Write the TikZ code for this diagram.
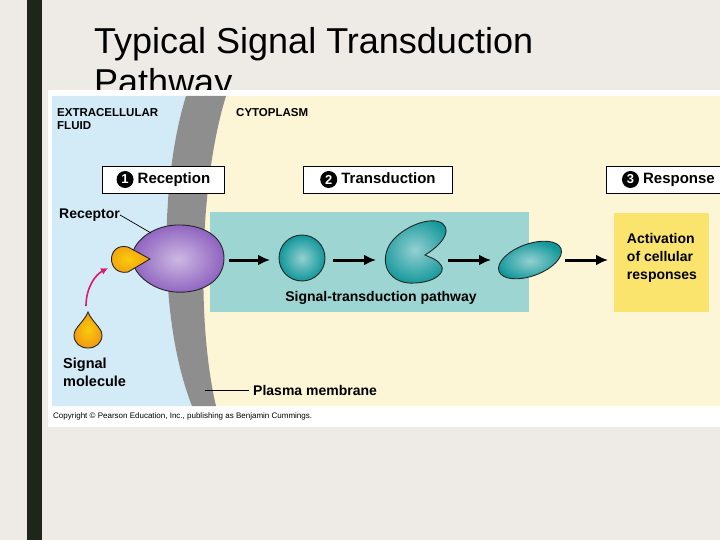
\documentclass[tikz,border=0pt]{standalone}
\usepackage{fontspec}
\setmainfont{Liberation Sans}
\usetikzlibrary{arrows.meta}
\definecolor{bgc}{HTML}{EEEBE6}
\definecolor{barc}{HTML}{1E261C}
\definecolor{fluid}{HTML}{D3EBF7}
\definecolor{cyto}{HTML}{FDF6D6}
\definecolor{memb}{HTML}{8E8E8E}
\definecolor{tealbg}{HTML}{9DD5D2}
\definecolor{teal}{HTML}{11979A}
\definecolor{resp}{HTML}{FBE46E}
\definecolor{purp}{HTML}{8F63C0}
\definecolor{orng}{HTML}{F29A14}
\definecolor{pinkc}{HTML}{D81B6A}
\tikzset{
 lab/.style={font=\bfseries\fontsize{14}{16}\selectfont, align=left, inner sep=0pt},
 stepbox/.style={draw=black, fill=white, line width=0.8pt, font=\bfseries\fontsize{15}{16}\selectfont, inner sep=3pt, minimum height=27pt},
 num/.style={circle, fill=black, text=white, inner sep=0pt, minimum size=17pt, font=\bfseries\fontsize{13}{13}\selectfont},
 arr/.style={-{Latex[length=12pt,width=11pt]}, line width=3pt},
 prot/.style={draw=black!85, line width=0.9pt},
 shT/.style={prot, inner color=teal!45!white, outer color=teal},
 shP/.style={prot, inner color=purp!45!white, outer color=purp},
 shO/.style={prot, inner color=orng!50!yellow, outer color=orng}
}
\begin{document}
\begin{tikzpicture}[x=1pt,y=-1pt]
\useasboundingbox (0,0) rectangle (720,540);
\fill[bgc] (0,0) rectangle (720,540);
\fill[barc] (27,0) rectangle (42,540);
\node[anchor=base west, inner sep=0pt, font=\fontsize{36}{40}\selectfont] (title) at (94,54) {Typical Signal Transduction};
\node[anchor=base west, inner sep=0pt, font=\fontsize{36}{40}\selectfont] (title2) at (94,95) {Pathway};
% image
\fill[white] (48,90) rectangle (720,427);
\fill[cyto] (52,96) rectangle (720,406);
\fill[fluid] (52,96) -- (186,96) .. controls (160,180) and (158,320) .. (192,406) -- (52,406) -- cycle;
\fill[memb] (186,96) -- (226,96) .. controls (200,180) and (196,320) .. (216,406) -- (192,406) .. controls (158,320) and (160,180) .. (186,96) -- cycle;
\node[anchor=west, inner sep=0pt, font=\fontsize{8}{9}\selectfont] (copy) at (53,416) {Copyright © Pearson Education, Inc., publishing as Benjamin Cummings.};
\node[lab, anchor=north west, font=\bfseries\fontsize{11.5}{13}\selectfont] (ecf) at (57,108) {EXTRACELLULAR\\FLUID};
\node[lab, anchor=north west, font=\bfseries\fontsize{11.5}{13}\selectfont] (cyt) at (236,108) {CYTOPLASM};
% step boxes
\node[stepbox, anchor=west, minimum width=122pt] (rec) at (102,179.5) {\tikz[baseline=-4.5pt]\node[num]{1}; Reception};
\node[stepbox, anchor=west, minimum width=149pt] (tra) at (303,179.5) {\tikz[baseline=-4.5pt]\node[num]{2}; Transduction};
\node[stepbox, anchor=west, minimum width=124pt] (res) at (606,179.5) {\tikz[baseline=-4.5pt]\node[num]{3}; Response};
% boxes
\fill[tealbg] (210,212) rectangle (529,312);
\node[fill=resp, minimum width=95pt, minimum height=99pt, inner sep=0pt] (act) at (661.5,262.5) {};
\node[lab, font=\bfseries\fontsize{14}{18}\selectfont] (actt) at (662,258) {Activation\\of cellular\\responses};
\node[lab] (stp) at (381,298) {Signal-transduction pathway};
% receptor
\shade[shP] (224,258) .. controls (224,282) and (200,294) .. (175,292) .. controls (150,290) and (132,272) .. (132,258) .. controls (132,242) and (152,226) .. (176,225) .. controls (202,224) and (224,236) .. (224,258) -- cycle;
\coordinate (recp) at (180,258);
\shade[shO] (150,259) -- (128,247) .. controls (106,242) and (106,276) .. (128,272) -- cycle;
\coordinate (lig) at (128,259);
% signal molecule drop
\shade[shO] (88,312) .. controls (84,322) and (74,328) .. (74,335) .. controls (74,343) and (80,348) .. (88,348) .. controls (96,348) and (102,343) .. (102,335) .. controls (102,328) and (92,322) .. (88,312) -- cycle;
\coordinate (sig) at (86,306);
\draw[pinkc, line width=1.6pt, -{Latex[length=7pt,width=7pt]}] (sig) .. controls (86,288) and (95,275) .. (108,268);
\node[lab, anchor=north west, font=\bfseries\fontsize{14.5}{18}\selectfont] (sm) at (63,358) {Signal\\molecule};
\node[lab, anchor=west] (rl) at (59,215) {Receptor};
\coordinate (rtip) at (151,233);
\draw[line width=0.7pt] (rl.east) -- (rtip);
\node[lab, anchor=west] (pm) at (253,390) {Plasma membrane};
\coordinate (pmt) at (205,390);
\draw[line width=0.7pt] (pm.west) ++(-4,0) -- (pmt);
% relay proteins
\shade[shT] (302,258) circle (23);
\coordinate (p1) at (302,258);
\shade[shT] (425,255) .. controls (440,246) and (452,232) .. (443,224) .. controls (433,215) and (402,226) .. (390,244) .. controls (378,264) and (390,285) .. (415,283) .. controls (436,282) and (446,272) .. (441,265) .. controls (437,259) and (431,258) .. (425,255) -- cycle;
\coordinate (p2) at (418,252);
\shade[shT, rotate around={20:(530,260)}] (530,260) ellipse (33 and 16);
\coordinate (p3) at (530,260);
\draw[arr] (229,260) -- (270,260);
\draw[arr] (333,260) -- (376,260);
\draw[arr] (448,260) -- (491,260);
\draw[arr] (565,260) -- (608,260);
\end{tikzpicture}
\end{document}
